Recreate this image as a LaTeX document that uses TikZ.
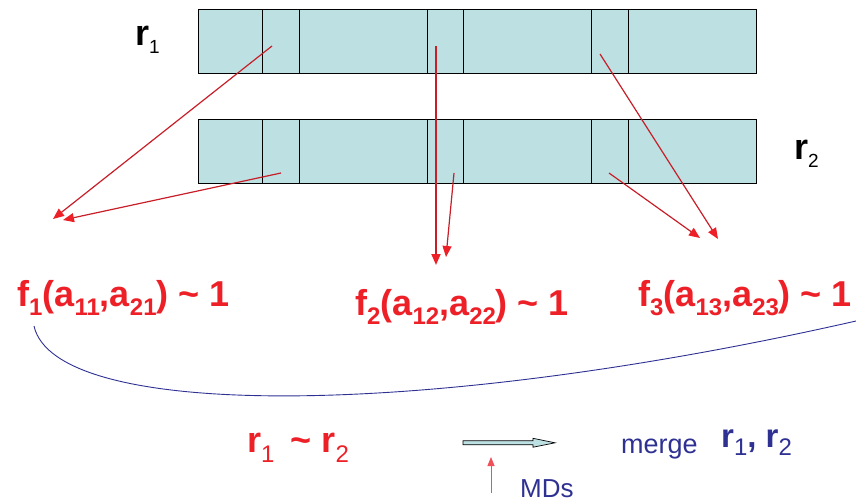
\documentclass[tikz,border=0pt]{standalone}
\usepackage{fontspec}
\setmainfont{Liberation Sans}
\usetikzlibrary{arrows.meta}
\definecolor{cellfill}{RGB}{189,224,227}
\definecolor{txtred}{RGB}{237,32,40}
\definecolor{linered}{RGB}{200,30,40}
\definecolor{navy}{RGB}{46,49,146}
\definecolor{mdred}{RGB}{240,80,90}
\newcommand\subB[1]{\raisebox{-9pt}{\fontsize{24}{24}\selectfont\bfseries #1}}
\newcommand\subR[2]{\raisebox{-#1}{\fontsize{19}{19}\selectfont\mdseries #2}}
\newcommand\subL[2]{\raisebox{-#1}{\fontsize{24}{24}\selectfont\mdseries #2}}
\begin{document}
\begin{tikzpicture}[x=1pt,y=-1pt,
  cellbox/.style={draw=black,line width=1pt,fill=cellfill},
  cellline/.style={draw=black,line width=1pt},
  mapline/.style={draw=linered,line width=1.2pt,-{Triangle[length=11pt,width=9pt,color=txtred]}},
  ftext/.style={anchor=base west,inner sep=0pt,text=txtred,font=\fontsize{36}{40}\selectfont\bfseries},
  rlabel/.style={anchor=base west,inner sep=0pt,font=\fontsize{36}{40}\selectfont\bfseries},
  every node/.style={inner sep=0pt}]
\useasboundingbox (0,0) rectangle (856,501);
% records
\draw[cellbox] (198,9) rectangle (756,73);
\draw[cellbox] (198,119) rectangle (756,183);
\foreach \xx in {262,299,427,463,591,628}{
  \draw[cellline] (\xx,9) -- (\xx,73);
  \draw[cellline] (\xx,119) -- (\xx,183);
}
% labels
\node[rlabel] (r1) at (135,45) {r\subR{8pt}{1}};
\node[rlabel] (r2) at (794,159) {r\subR{8pt}{2}};
% arrow coordinates
\coordinate (s1) at (272,46);
\coordinate (t1) at (53,219);
\coordinate (s2) at (281,173);
\coordinate (t2) at (63,220);
\coordinate (s3) at (436,46);
\coordinate (t3) at (436,265);
\coordinate (s4) at (454,173);
\coordinate (t4) at (446,257);
\coordinate (s5) at (600,54);
\coordinate (t5) at (718,239);
\coordinate (s6) at (609,173);
\coordinate (t6) at (700,238);
\draw[mapline] (s1) -- (t1);
\draw[mapline] (s2) -- (t2);
\draw[mapline,line width=1.8pt] (s3) -- (t3);
\draw[mapline] (s4) -- (t4);
\draw[mapline] (s5) -- (t5);
\draw[mapline] (s6) -- (t6);
% similarity functions
\node[ftext] (f1) at (17,306) {f\subB{1}(a\subB{11},a\subB{21}) \textasciitilde{} 1};
\node[ftext] (f2) at (355,315) {f\subB{2}(a\subB{12},a\subB{22}) \textasciitilde{} 1};
\node[ftext] (f3) at (638,306) {f\subB{3}(a\subB{13},a\subB{23}) \textasciitilde{} 1};
% combining curve
\coordinate (cs) at (34,326);
\coordinate (ce) at (856,321);
\draw[navy,line width=0.9pt] (cs) .. controls (55,420) and (420,420) .. (ce);
% bottom row
\node[rlabel,text=txtred] (rr) at (247,452) {r\subL{10pt}{1}\hspace{16pt}\textasciitilde{} r\subL{10pt}{2}};
\draw[draw=black,line width=0.7pt,fill=cellfill]
  (463,440.8) -- (533,440.8) -- (533,438.3) -- (555,442.8) -- (533,447.2) -- (533,444.8) -- (463,444.8) -- cycle;
\coordinate (ms) at (491,493);
\coordinate (mt) at (491,457);
\draw[draw=mdred,line width=0.9pt,-{Triangle[length=9pt,width=7pt]}] (ms) -- (mt);
\node[anchor=base west,text=navy,font=\fontsize{26}{30}\selectfont] (mds) at (520,497) {MDs};
\node[anchor=base west,text=navy,font=\fontsize{27}{30}\selectfont] (mg) at (621,453) {merge};
\node[rlabel,text=navy,font=\fontsize{33}{36}\selectfont\bfseries] (mr) at (721,447) {r\subL{8pt}{1}, r\subL{8pt}{2}};
\end{tikzpicture}
\end{document}
